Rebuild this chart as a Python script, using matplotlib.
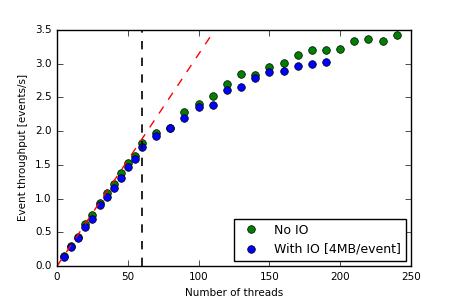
import numpy as np
import matplotlib
matplotlib.use('Agg')
import matplotlib.pyplot as plt

# threads vs event throughput
threads_noio = [5, 10, 15, 20, 25, 30, 35, 40, 45, 50, 55, 60, 70, 80, 90, 100,
                110, 120, 130, 140, 150, 160, 170, 180, 190, 200, 210, 220, 230, 240]
rate_noio = [0.15, 0.29, 0.43, 0.62, 0.76, 0.93, 1.08, 1.22, 1.38, 1.53, 1.63, 1.83,
             1.97, 2.04, 2.29, 2.40, 2.52, 2.70, 2.84, 2.83, 2.95, 3.01, 3.13, 3.20,
             3.20, 3.22, 3.34, 3.36, 3.34, 3.42]

threads_io = [5, 10, 15, 20, 25, 30, 35, 40, 45, 50, 55, 60, 70, 80, 90, 100,
              110, 120, 130, 140, 150, 160, 170, 180, 190]
rate_io = [0.14, 0.28, 0.42, 0.58, 0.70, 0.905, 1.02, 1.16, 1.30, 1.465, 1.59, 1.77,
           1.93, 2.04, 2.19, 2.35, 2.39, 2.61, 2.65, 2.79, 2.87, 2.89, 2.96, 3.00, 3.03]

slope = 0.0314
fit_x = [0, 110]
n_cores = 60

plt.style.use('classic')
plt.rcParams['xtick.labelsize'] = 7.5
plt.rcParams['ytick.labelsize'] = 7.5

fig = plt.figure(figsize=(4.57, 3.05), dpi=100)
ax = fig.add_axes([0.125, 0.128, 0.774, 0.774])

ax.plot(threads_noio, rate_noio, 'o', color='green', markersize=5.5,
        markeredgecolor='black', markeredgewidth=0.5, label='No IO')
ax.plot(threads_io, rate_io, 'o', color='blue', markersize=5.5,
        markeredgecolor='black', markeredgewidth=0.5, label='With IO [4MB/event]')
ax.plot(fit_x, [slope * x for x in fit_x], 'r--')
ax.axvline(n_cores, color='black', linestyle='--', linewidth=1.2)

ax.set_xlim(0, 250)
ax.set_ylim(0, 3.5)
ax.set_xlabel('Number of threads', fontsize=7.5)
ax.set_ylabel('Event throughput [events/s]', fontsize=7.5)
ax.legend(loc='lower right', numpoints=1, fontsize=9, borderaxespad=0.4)

fig.savefig('out.png', dpi=100)
